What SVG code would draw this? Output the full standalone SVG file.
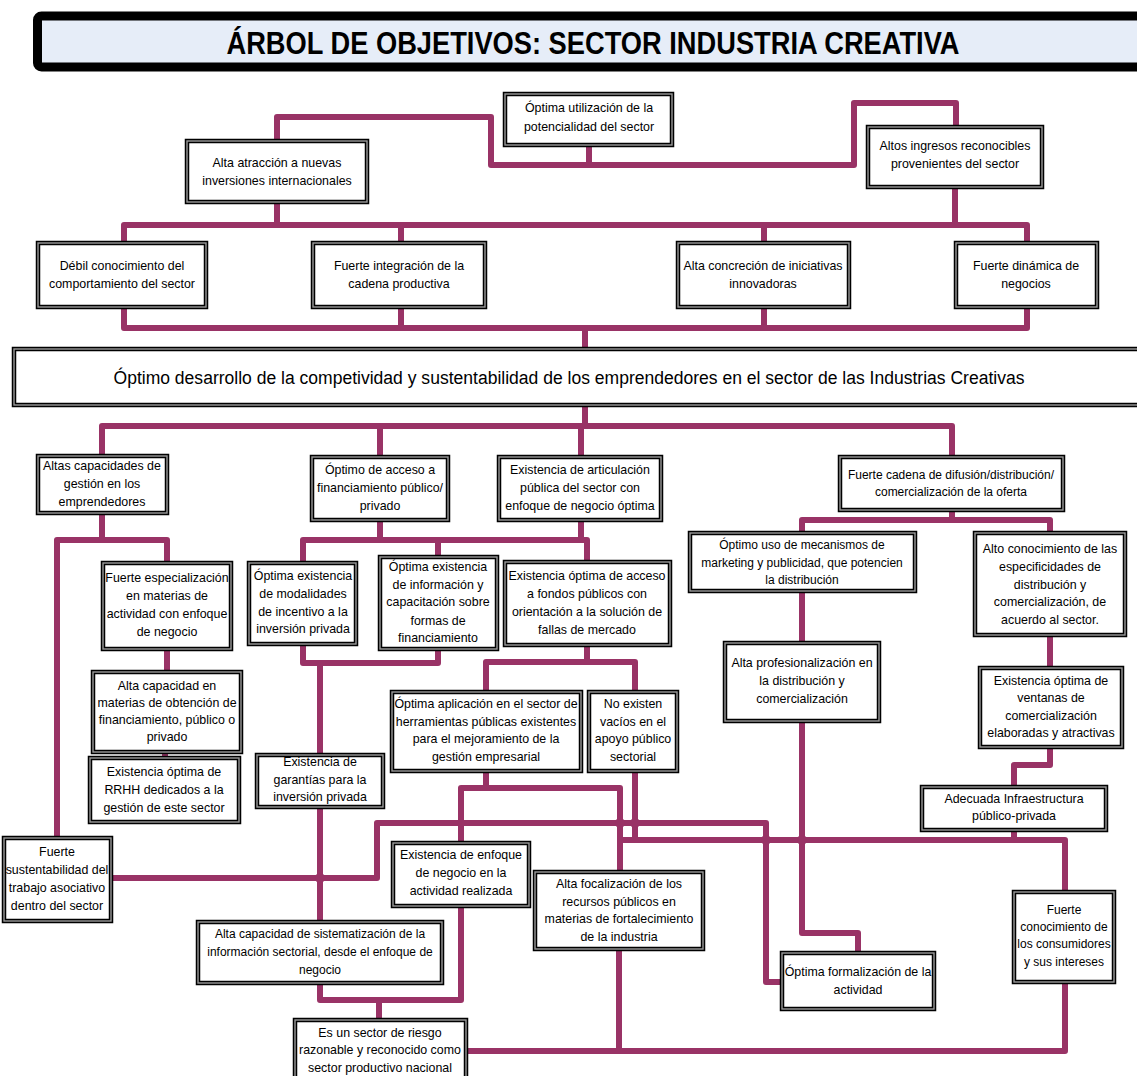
<svg xmlns="http://www.w3.org/2000/svg" width="1137" height="1076" viewBox="0 0 1137 1076">
  <style>
    .b { fill: #ffffff; stroke: #000000; stroke-width: 4.5; }
    .bi { fill: none; stroke: #9a9a9a; stroke-width: 1.4; }
    .t { font-family: "Liberation Sans", Arial, sans-serif; font-size: 12.4px; fill: #000000; text-anchor: middle; }
    .s { font-size: 12px; }
    .big { font-size: 18px; }
    .c { fill: none; stroke: #993366; stroke-width: 6; stroke-linejoin: round; stroke-linecap: butt; }
    .j { fill: #993366; }
  </style>

  <rect width="1137" height="1076" fill="#ffffff"/>

  <!-- title banner -->
  <g id="title">
    <rect x="37.5" y="16" width="1120" height="51" rx="4" fill="#e6edf8" stroke="#000000" stroke-width="9"/>
    <text x="593" y="54" font-family="'Liberation Sans Narrow', 'Liberation Sans', Arial, sans-serif" font-size="32" font-weight="bold" text-anchor="middle" textLength="733" lengthAdjust="spacingAndGlyphs">ÁRBOL DE OBJETIVOS: SECTOR INDUSTRIA CREATIVA</text>
  </g>

  <!-- connectors -->
  <g id="connectors">
    <!-- upper tree -->
    <polyline class="c" points="277,141 277,117 491,117 491,165 854,165 854,103 956,103 956,127"/>
    <polyline class="c" points="589,145 589,165"/>
    <polyline class="c" points="277,202 277,225"/>
    <polyline class="c" points="955,187 955,225"/>
    <polyline class="c" points="124,243 124,225 1027,225 1027,243"/>
    <polyline class="c" points="401,225 401,243"/>
    <polyline class="c" points="764,225 764,243"/>
    <polyline class="c" points="124,307 124,328 1027,328 1027,307"/>
    <polyline class="c" points="401,307 401,328"/>
    <polyline class="c" points="764,307 764,328"/>
    <polyline class="c" points="585,328 585,349"/>

    <!-- lower tree -->
    <polyline class="c" points="585,405 585,426"/>
    <polyline class="c" points="102,456 102,426 952,426 952,457"/>
    <polyline class="c" points="380,426 380,457"/>
    <polyline class="c" points="581,426 581,457"/>

    <!-- management branch -->
    <polyline class="c" points="102,513 102,540"/>
    <polyline class="c" points="57,838 57,540 167,540 167,563"/>
    <polyline class="c" points="167,649 167,672"/>
    <polyline class="c" points="165,752 165,758"/>

    <!-- financing / articulation branch -->
    <polyline class="c" points="380,520 380,540"/>
    <polyline class="c" points="581,520 581,540"/>
    <polyline class="c" points="303,563 303,540 587,540 587,562"/>
    <polyline class="c" points="438,540 438,557"/>
    <polyline class="c" points="303,644 303,663 438,663 438,649"/>
    <polyline class="c" points="320,663 320,755"/>
    <polyline class="c" points="320,807 320,922"/>
    <polyline class="c" points="587,645 587,662"/>
    <polyline class="c" points="486,692 486,662 635,662 635,692"/>
    <polyline class="c" points="486,771 486,788"/>
    <polyline class="c" points="461,843 461,788 620,788 620,872"/>
    <polyline class="c" points="635,771 635,840"/>

    <!-- cross links -->
    <polyline class="c" points="111,878 377,878 377,823 766,823 766,982 782,982"/>
    <polyline class="c" points="620,840 1065,840 1065,892"/>

    <!-- distribution branch -->
    <polyline class="c" points="952,510 952,520"/>
    <polyline class="c" points="802,533 802,520 1050,520 1050,533"/>
    <polyline class="c" points="802,591 802,643"/>
    <polyline class="c" points="802,721 802,933 858,933 858,953"/>
    <polyline class="c" points="1050,635 1050,668"/>
    <polyline class="c" points="1050,747 1050,765 1014,765 1014,787"/>
    <polyline class="c" points="1014,830 1014,840"/>

    <!-- base -->
    <polyline class="c" points="461,906 461,1000 320,1000 320,983"/>
    <polyline class="c" points="379,1000 379,1020"/>
    <polyline class="c" points="466,1051 1065,1051 1065,982"/>
    <polyline class="c" points="619,949 619,1051"/>

    <!-- crossing marks -->
    <circle class="j" cx="320" cy="878" r="5"/>
    <circle class="j" cx="620" cy="823" r="5"/>
    <circle class="j" cx="635" cy="823" r="5"/>
    <circle class="j" cx="766" cy="840" r="5"/>
    <circle class="j" cx="802" cy="840" r="5"/>
  </g>

  <!-- top level -->
  <g id="n-utilizacion">
    <rect class="b" x="505" y="94" width="167" height="51"/><rect class="bi" x="505" y="94" width="167" height="51"/>
    <text class="t"><tspan x="589" y="112">Óptima utilización de la</tspan><tspan x="589" y="131">potencialidad del sector</tspan></text>
  </g>
  <g id="n-atraccion">
    <rect class="b" x="187" y="141" width="180" height="61"/><rect class="bi" x="187" y="141" width="180" height="61"/>
    <text class="t"><tspan x="277" y="167">Alta atracción a nuevas</tspan><tspan x="277" y="185">inversiones internacionales</tspan></text>
  </g>
  <g id="n-ingresos">
    <rect class="b" x="868" y="127" width="174" height="60"/><rect class="bi" x="868" y="127" width="174" height="60"/>
    <text class="t"><tspan x="955" y="150">Altos ingresos reconocibles</tspan><tspan x="955" y="168">provenientes del sector</tspan></text>
  </g>

  <!-- second level -->
  <g id="n-debil">
    <rect class="b" x="38" y="243" width="168" height="64"/><rect class="bi" x="38" y="243" width="168" height="64"/>
    <text class="t"><tspan x="122" y="270">Débil conocimiento del</tspan><tspan x="122" y="288">comportamiento del sector</tspan></text>
  </g>
  <g id="n-integracion">
    <rect class="b" x="313" y="243" width="172" height="64"/><rect class="bi" x="313" y="243" width="172" height="64"/>
    <text class="t"><tspan x="399" y="270">Fuerte integración de la</tspan><tspan x="399" y="288">cadena productiva</tspan></text>
  </g>
  <g id="n-concrecion">
    <rect class="b" x="678" y="243" width="171" height="64"/><rect class="bi" x="678" y="243" width="171" height="64"/>
    <text class="t"><tspan x="763" y="270">Alta concreción de iniciativas</tspan><tspan x="763" y="288">innovadoras</tspan></text>
  </g>
  <g id="n-dinamica">
    <rect class="b" x="956" y="243" width="141" height="64"/><rect class="bi" x="956" y="243" width="141" height="64"/>
    <text class="t"><tspan x="1026" y="270">Fuerte dinámica de</tspan><tspan x="1026" y="288">negocios</tspan></text>
  </g>

  <!-- central objective -->
  <g id="n-central">
    <rect class="b" x="14" y="349" width="1140" height="56"/><rect class="bi" x="14" y="349" width="1140" height="56"/>
    <text class="t big" x="569" y="384" textLength="911" lengthAdjust="spacingAndGlyphs">Óptimo desarrollo de la competividad y sustentabilidad de los emprendedores en el sector de las Industrias Creativas</text>
  </g>

  <!-- third level -->
  <g id="n-gestion">
    <rect class="b" x="38" y="456" width="129" height="57"/><rect class="bi" x="38" y="456" width="129" height="57"/>
    <text class="t"><tspan x="102" y="470">Altas capacidades de</tspan><tspan x="102" y="488">gestión en los</tspan><tspan x="102" y="506">emprendedores</tspan></text>
  </g>
  <g id="n-financiamiento">
    <rect class="b" x="312" y="457" width="136" height="63"/><rect class="bi" x="312" y="457" width="136" height="63"/>
    <text class="t"><tspan x="380" y="474">Óptimo de acceso a</tspan><tspan x="380" y="492">financiamiento público/</tspan><tspan x="380" y="510">privado</tspan></text>
  </g>
  <g id="n-articulacion">
    <rect class="b" x="499" y="457" width="162" height="63"/><rect class="bi" x="499" y="457" width="162" height="63"/>
    <text class="t"><tspan x="580" y="474">Existencia de articulación</tspan><tspan x="580" y="492">pública del sector con</tspan><tspan x="580" y="510">enfoque de negocio óptima</tspan></text>
  </g>
  <g id="n-difusion">
    <rect class="b" x="840" y="457" width="223" height="53"/><rect class="bi" x="840" y="457" width="223" height="53"/>
    <text class="t s"><tspan x="951" y="479">Fuerte cadena de difusión/distribución/</tspan><tspan x="951" y="496">comercialización de la oferta</tspan></text>
  </g>

  <!-- management branch -->
  <g id="n-especializacion">
    <rect class="b" x="103" y="563" width="128" height="86"/><rect class="bi" x="103" y="563" width="128" height="86"/>
    <text class="t"><tspan x="167" y="582">Fuerte especialización</tspan><tspan x="167" y="600">en materias de</tspan><tspan x="167" y="618">actividad con enfoque</tspan><tspan x="167" y="636">de negocio</tspan></text>
  </g>
  <g id="n-obtencion">
    <rect class="b" x="93" y="672" width="148" height="80"/><rect class="bi" x="93" y="672" width="148" height="80"/>
    <text class="t"><tspan x="167" y="690">Alta capacidad en</tspan><tspan x="167" y="707">materias de obtención de</tspan><tspan x="167" y="724">financiamiento, público o</tspan><tspan x="167" y="741">privado</tspan></text>
  </g>
  <g id="n-rrhh">
    <rect class="b" x="90" y="758" width="149" height="64"/><rect class="bi" x="90" y="758" width="149" height="64"/>
    <text class="t"><tspan x="164" y="776">Existencia óptima de</tspan><tspan x="164" y="794">RRHH dedicados a la</tspan><tspan x="164" y="812">gestión de este sector</tspan></text>
  </g>
  <g id="n-sustentabilidad">
    <rect class="b" x="4" y="838" width="107" height="83"/><rect class="bi" x="4" y="838" width="107" height="83"/>
    <text class="t"><tspan x="57" y="856">Fuerte</tspan><tspan x="57" y="874">sustentabilidad del</tspan><tspan x="57" y="892">trabajo asociativo</tspan><tspan x="57" y="910">dentro del sector</tspan></text>
  </g>

  <!-- financing branch -->
  <g id="n-modalidades">
    <rect class="b" x="249" y="563" width="107" height="81"/><rect class="bi" x="249" y="563" width="107" height="81"/>
    <text class="t"><tspan x="303" y="580">Óptima existencia</tspan><tspan x="303" y="598">de modalidades</tspan><tspan x="303" y="616">de incentivo a la</tspan><tspan x="303" y="633">inversión privada</tspan></text>
  </g>
  <g id="n-informacion">
    <rect class="b" x="380" y="557" width="117" height="92"/><rect class="bi" x="380" y="557" width="117" height="92"/>
    <text class="t"><tspan x="438" y="571">Óptima existencia</tspan><tspan x="438" y="589">de información y</tspan><tspan x="438" y="606">capacitación sobre</tspan><tspan x="438" y="625">formas de</tspan><tspan x="438" y="642">financiamiento</tspan></text>
  </g>
  <g id="n-garantias">
    <rect class="b" x="257" y="755" width="126" height="52"/><rect class="bi" x="257" y="755" width="126" height="52"/>
    <text class="t"><tspan x="320" y="766">Existencia de</tspan><tspan x="320" y="784">garantías para la</tspan><tspan x="320" y="801">inversión privada</tspan></text>
  </g>
  <g id="n-sistematizacion">
    <rect class="b" x="198" y="922" width="244" height="61"/><rect class="bi" x="198" y="922" width="244" height="61"/>
    <text class="t s"><tspan x="320" y="938">Alta capacidad de sistematización de la</tspan><tspan x="320" y="956">información sectorial, desde el enfoque de</tspan><tspan x="320" y="974">negocio</tspan></text>
  </g>
  <g id="n-riesgo">
    <rect class="b" x="295" y="1020" width="171" height="66"/><rect class="bi" x="295" y="1020" width="171" height="66"/>
    <text class="t"><tspan x="380" y="1037">Es un sector de riesgo</tspan><tspan x="380" y="1054">razonable y reconocido como</tspan><tspan x="380" y="1072">sector productivo nacional</tspan></text>
  </g>

  <!-- articulation branch -->
  <g id="n-fondos">
    <rect class="b" x="505" y="562" width="165" height="83"/><rect class="bi" x="505" y="562" width="165" height="83"/>
    <text class="t"><tspan x="587" y="580">Existencia óptima de acceso</tspan><tspan x="587" y="598">a fondos públicos con</tspan><tspan x="587" y="616">orientación a la solución de</tspan><tspan x="587" y="634">fallas de mercado</tspan></text>
  </g>
  <g id="n-aplicacion">
    <rect class="b" x="392" y="692" width="189" height="79"/><rect class="bi" x="392" y="692" width="189" height="79"/>
    <text class="t"><tspan x="486" y="708">Óptima aplicación en el sector de</tspan><tspan x="486" y="726">herramientas públicas existentes</tspan><tspan x="486" y="743">para el mejoramiento de la</tspan><tspan x="486" y="761">gestión empresarial</tspan></text>
  </g>
  <g id="n-vacios">
    <rect class="b" x="589" y="692" width="88" height="79"/><rect class="bi" x="589" y="692" width="88" height="79"/>
    <text class="t"><tspan x="633" y="708">No existen</tspan><tspan x="633" y="726">vacíos en el</tspan><tspan x="633" y="743">apoyo público</tspan><tspan x="633" y="761">sectorial</tspan></text>
  </g>
  <g id="n-enfoque">
    <rect class="b" x="393" y="843" width="136" height="63"/><rect class="bi" x="393" y="843" width="136" height="63"/>
    <text class="t"><tspan x="461" y="859">Existencia de enfoque</tspan><tspan x="461" y="877">de negocio en la</tspan><tspan x="461" y="895">actividad realizada</tspan></text>
  </g>
  <g id="n-focalizacion">
    <rect class="b" x="535" y="872" width="168" height="77"/><rect class="bi" x="535" y="872" width="168" height="77"/>
    <text class="t"><tspan x="619" y="888">Alta focalización de los</tspan><tspan x="619" y="906">recursos públicos en</tspan><tspan x="619" y="923">materias de fortalecimiento</tspan><tspan x="619" y="941">de la industria</tspan></text>
  </g>

  <!-- distribution branch -->
  <g id="n-marketing">
    <rect class="b" x="690" y="533" width="225" height="58"/><rect class="bi" x="690" y="533" width="225" height="58"/>
    <text class="t s"><tspan x="802" y="549">Óptimo uso de mecanismos de</tspan><tspan x="802" y="567">marketing y publicidad, que potencien</tspan><tspan x="802" y="584">la distribución</tspan></text>
  </g>
  <g id="n-profesionalizacion">
    <rect class="b" x="725" y="643" width="154" height="78"/><rect class="bi" x="725" y="643" width="154" height="78"/>
    <text class="t"><tspan x="802" y="667">Alta profesionalización en</tspan><tspan x="802" y="685">la distribución y</tspan><tspan x="802" y="703">comercialización</tspan></text>
  </g>
  <g id="n-formalizacion">
    <rect class="b" x="782" y="953" width="152" height="56"/><rect class="bi" x="782" y="953" width="152" height="56"/>
    <text class="t"><tspan x="858" y="976">Óptima formalización de la</tspan><tspan x="858" y="994">actividad</tspan></text>
  </g>
  <g id="n-especificidades">
    <rect class="b" x="975" y="533" width="150" height="102"/><rect class="bi" x="975" y="533" width="150" height="102"/>
    <text class="t"><tspan x="1050" y="553">Alto conocimiento de las</tspan><tspan x="1050" y="571">especificidades de</tspan><tspan x="1050" y="589">distribución y</tspan><tspan x="1050" y="606">comercialización, de</tspan><tspan x="1050" y="624">acuerdo al sector.</tspan></text>
  </g>
  <g id="n-ventanas">
    <rect class="b" x="980" y="668" width="142" height="79"/><rect class="bi" x="980" y="668" width="142" height="79"/>
    <text class="t"><tspan x="1051" y="685">Existencia óptima de</tspan><tspan x="1051" y="702">ventanas de</tspan><tspan x="1051" y="720">comercialización</tspan><tspan x="1051" y="737">elaboradas y atractivas</tspan></text>
  </g>
  <g id="n-infraestructura">
    <rect class="b" x="922" y="787" width="184" height="43"/><rect class="bi" x="922" y="787" width="184" height="43"/>
    <text class="t"><tspan x="1014" y="803">Adecuada Infraestructura</tspan><tspan x="1014" y="820">público-privada</tspan></text>
  </g>
  <g id="n-consumidores">
    <rect class="b" x="1014" y="892" width="100" height="90"/><rect class="bi" x="1014" y="892" width="100" height="90"/>
    <text class="t s"><tspan x="1064" y="914">Fuerte</tspan><tspan x="1064" y="931">conocimiento de</tspan><tspan x="1064" y="948">los consumidores</tspan><tspan x="1064" y="966">y sus intereses</tspan></text>
  </g>
</svg>
